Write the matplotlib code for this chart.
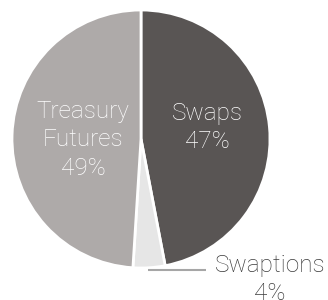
import matplotlib
matplotlib.use("Agg")
import matplotlib.pyplot as plt

# share of volume by product
labels = ["Swaps", "Swaptions", "Treasury\nFutures"]
shares = [47, 4, 49]
colors = ["#595554", "#e6e6e6", "#aeaaa9"]

plt.rcParams['font.family'] = ['Roboto', 'DejaVu Sans']

fig = plt.figure(figsize=(3.28, 3.0), dpi=100)
ax = fig.add_axes([0, 0, 1, 1])

wedges, _ = ax.pie(shares, colors=colors, startangle=90, counterclock=False,
                   wedgeprops=dict(edgecolor="white", linewidth=2))

# pie center at (141,139) px, radius 129 px
R = 129
ax.set_xlim(-141 / R, (328 - 141) / R)
ax.set_ylim(-(300 - 139) / R, 139 / R)
ax.set_aspect("equal")
ax.axis("off")

def px(y):
    return (139 - y) / R

def put_label(lines, x, first_base, color, pitch=28.5):
    # one text per line so baselines land where the reference has them
    for i, line in enumerate(lines):
        ax.text(x, px(first_base + i * pitch), line, ha="center", va="baseline",
                color=color, fontsize=17.5, fontweight="light")

put_label(labels[0].split("\n") + [f"{shares[0]}%"], (207 - 141) / R, 120, "white")
put_label(labels[2].split("\n") + [f"{shares[2]}%"], (83 - 141) / R, 118, "white")

# swaptions is too small, label it outside with a leader line
ax.plot([(148 - 141) / R, (206 - 141) / R], [px(270), px(270)], color="#a6a6a6",
        lw=1.5, solid_capstyle="butt")
put_label([labels[1], f"{shares[1]}%"], (270 - 141) / R, 272, "#3a3a3a")

fig.savefig("out.png", dpi=100)
